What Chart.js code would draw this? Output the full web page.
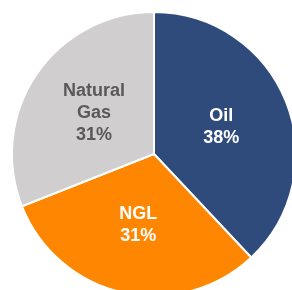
<!DOCTYPE html>
<html>
<head>
<meta charset="utf-8">
<script src="https://cdn.jsdelivr.net/npm/chart.js@4/dist/chart.umd.min.js"></script>
<style>
  html, body { margin: 0; padding: 0; background: #fff; overflow: hidden; width: 292px; height: 290px; }
  #wrap { position: absolute; left: 0; top: 0; width: 308px; height: 308px; }
</style>
</head>
<body>
<div id="wrap"><canvas id="pieChart" width="308" height="308"></canvas></div>
<script>
var categories = [["Oil"], ["NGL"], ["Natural", "Gas"]];
var shares = [38, 31, 31];
var sliceColors = ['#2f4b7c', '#ff8600', '#d0cece'];
var labelColors = ['#ffffff', '#ffffff', '#595959'];

// draws "name / xx%" inside each slice
var sliceLabels = {
    id: 'sliceLabels',
    afterDatasetsDraw: function(chart) {
        var ctx = chart.ctx;
        var meta = chart.getDatasetMeta(0);
        meta.data.forEach(function(arc, i) {
            var mid = (arc.startAngle + arc.endAngle) / 2;
            var r = arc.outerRadius * 0.51;
            var x = arc.x + Math.cos(mid) * r;
            var y = arc.y + Math.sin(mid) * r;
            var lines = categories[i].concat([shares[i] + '%']);
            var lh = 22;
            ctx.save();
            ctx.font = 'bold 18px "Liberation Sans", Arial, sans-serif';
            ctx.fillStyle = labelColors[i];
            ctx.textAlign = 'center';
            ctx.textBaseline = 'middle';
            var y0 = y - (lines.length - 1) * lh / 2;
            lines.forEach(function(t, j) {
                ctx.fillText(t, x, y0 + j * lh);
            });
            ctx.restore();
        });
    }
};

var chart = new Chart(document.getElementById('pieChart'), {
    type: 'pie',
    data: {
        labels: categories,
        datasets: [{
            data: shares,
            backgroundColor: sliceColors,
            borderColor: '#ffffff',
            borderWidth: 2
        }]
    },
    options: {
        responsive: false,
        animation: false,
        layout: { padding: 11 },
        plugins: {
            legend: { display: false },
            tooltip: { enabled: false }
        }
    },
    plugins: [sliceLabels]
});
</script>
</body>
</html>
